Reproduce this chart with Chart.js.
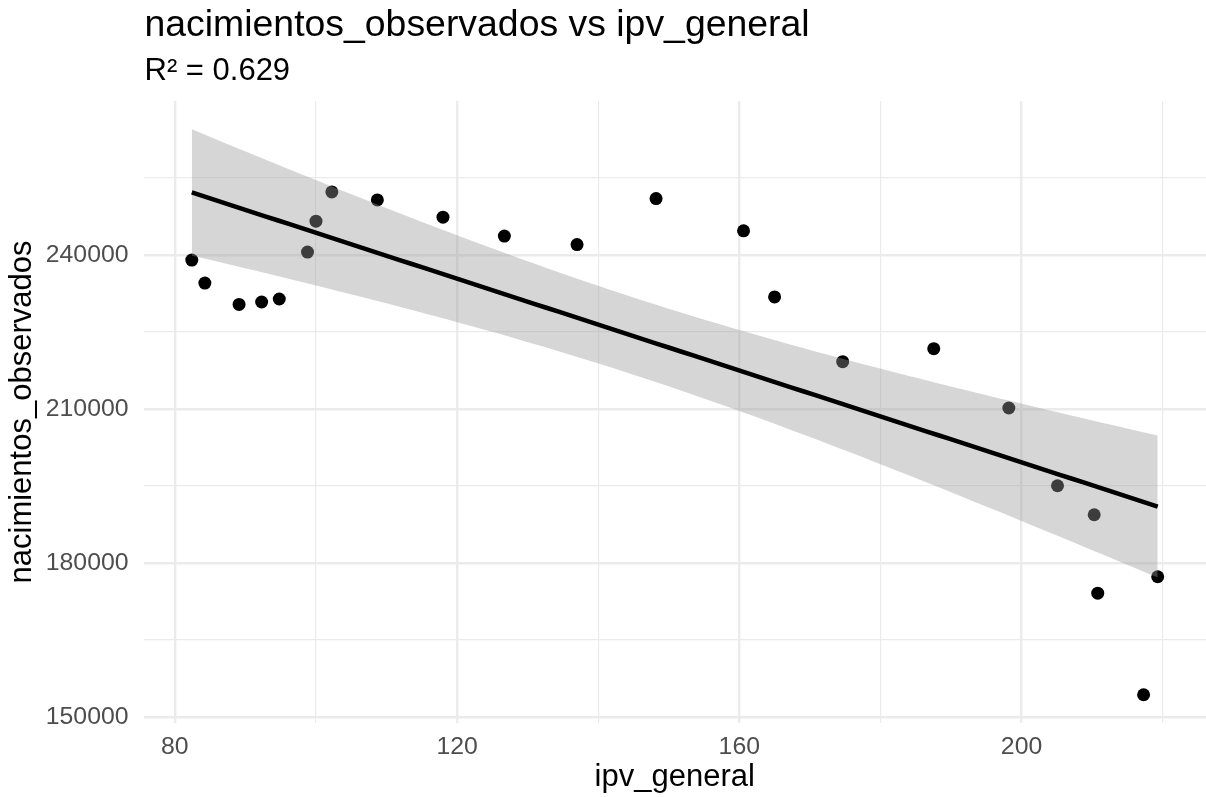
<!DOCTYPE html>
<html>
<head>
<meta charset="utf-8">
<script src="https://cdn.jsdelivr.net/npm/chart.js@4.4.0/dist/chart.umd.min.js"></script>
<style>
  html, body { margin: 0; padding: 0; background: #fff; }
  canvas { display: block; }
</style>
</head>
<body>
<canvas id="chart" width="1206" height="797"></canvas>
<script>
// observed points
const ipvGeneral = [
  82.4, 84.25, 89.1, 92.3, 94.8, 98.8, 100.0, 102.25, 108.7, 118.0, 126.7, 137.0,
  148.2, 160.6, 165.0, 174.65, 187.56, 198.2, 205.1, 210.3, 210.8, 217.3, 219.3,
];
const nacimientos = [
  238970, 234500, 230340, 230800, 231390, 240525, 246550, 252250, 250700, 247330, 243640, 242000,
  250960, 244665, 231800, 219185, 221720, 210150, 195000, 189350, 174070, 154290, 177270,
];

const xTicks = [80, 100, 120, 140, 160, 180, 200, 220];
const xLabelled = [80, 120, 160, 200];
const yTicks = [150000, 165000, 180000, 195000, 210000, 225000, 240000, 255000];
const yLabelled = [150000, 180000, 210000, 240000];

const titleText = 'nacimientos_observados vs ipv_general';
const subtitleText = 'R² = 0.629';
const xTitle = 'ipv_general';
const yTitle = 'nacimientos_observados';

const fontFamily = '"Liberation Sans", Arial, Helvetica, sans-serif';
const palette = {
  text: '#000000',
  tick: '#4D4D4D',
  grid: '#EBEBEB',
  ribbon: 'rgba(153, 153, 153, 0.4)', // grey60, alpha .4
  line: '#000000',
  point: '#000000',
};

// least squares fit + 95% confidence band (like geom_smooth(method = 'lm'))
const n = ipvGeneral.length;
const xBar = ipvGeneral.reduce((a, b) => a + b, 0) / n;
const yBar = nacimientos.reduce((a, b) => a + b, 0) / n;
let sxx = 0, sxy = 0;
for (let i = 0; i < n; i++) {
  sxx += (ipvGeneral[i] - xBar) ** 2;
  sxy += (ipvGeneral[i] - xBar) * (nacimientos[i] - yBar);
}
const slope = sxy / sxx;
const intercept = yBar - slope * xBar;
let sse = 0;
for (let i = 0; i < n; i++) {
  sse += (nacimientos[i] - (intercept + slope * ipvGeneral[i])) ** 2;
}
const sigma = Math.sqrt(sse / (n - 2));
const tCrit = 2.080; // qt(0.975, df = 21)

const xLo = Math.min(...ipvGeneral);
const xHi = Math.max(...ipvGeneral);
const fitLine = [], bandUpper = [], bandLower = [];
for (let k = 0; k < 80; k++) {
  const x = xLo + (xHi - xLo) * k / 79;
  const yhat = intercept + slope * x;
  const se = sigma * Math.sqrt(1 / n + (x - xBar) ** 2 / sxx);
  fitLine.push({ x, y: yhat });
  bandUpper.push({ x, y: yhat + tCrit * se });
  bandLower.push({ x, y: yhat - tCrit * se });
}

// ggplot style 5% expansion of the limits
const xPad = (xHi - xLo) * 0.05;
const yAll = nacimientos.concat(bandUpper.map(p => p.y), bandLower.map(p => p.y));
const yLo = Math.min(...yAll);
const yHi = Math.max(...yAll);
const yPad = (yHi - yLo) * 0.05;

const headerPlugin = {
  id: 'header',
  afterDraw(chart) {
    const { ctx, chartArea } = chart;
    ctx.save();
    ctx.fillStyle = palette.text;
    ctx.textAlign = 'left';
    ctx.textBaseline = 'alphabetic';
    ctx.font = `37.4px ${fontFamily}`;
    ctx.fillText(titleText, chartArea.left + 1, 36);
    ctx.font = `31px ${fontFamily}`;
    ctx.fillText(subtitleText, chartArea.left + 1, 80);
    ctx.restore();
  },
};

const gridWidth = (labelled) => (ctx) =>
  ctx.tick && labelled.includes(ctx.tick.value) ? 2.4 : 1.2;

const ctx = document.getElementById('chart').getContext('2d');
new Chart(ctx, {
  type: 'scatter',
  data: {
    datasets: [
      {
        label: 'fit',
        data: fitLine,
        showLine: true,
        borderColor: palette.line,
        borderWidth: 4.5,
        pointRadius: 0,
        fill: false,
      },
      {
        label: 'upper',
        data: bandUpper,
        showLine: true,
        borderColor: 'transparent',
        backgroundColor: palette.ribbon,
        pointRadius: 0,
        fill: '+1',
      },
      {
        label: 'lower',
        data: bandLower,
        showLine: true,
        borderColor: 'transparent',
        pointRadius: 0,
        fill: false,
      },
      {
        label: 'observed',
        data: ipvGeneral.map((x, i) => ({ x, y: nacimientos[i] })),
        backgroundColor: palette.point,
        borderWidth: 0,
        pointRadius: 6.5,
        pointHoverRadius: 6.5,
      },
    ],
  },
  options: {
    responsive: false,
    devicePixelRatio: 1,
    animation: false,
    events: [],
    layout: { autoPadding: false, padding: { top: 101, right: 0, bottom: 0, left: 0 } },
    plugins: {
      legend: { display: false },
      tooltip: { enabled: false },
    },
    scales: {
      x: {
        type: 'linear',
        min: xLo - xPad,
        max: xHi + xPad,
        afterBuildTicks: (scale) => { scale.ticks = xTicks.map((v) => ({ value: v })); },
        afterFit: (scale) => { scale.height = 74; },
        border: { display: false },
        grid: { color: palette.grid, lineWidth: gridWidth(xLabelled), drawTicks: false },
        ticks: {
          autoSkip: false,
          maxRotation: 0,
          padding: 9,
          color: palette.tick,
          font: { family: fontFamily, size: 24.8 },
          callback: (v) => (xLabelled.includes(v) ? String(v) : ''),
        },
        title: {
          display: true,
          text: xTitle,
          color: palette.text,
          font: { family: fontFamily, size: 31 },
          padding: { top: 0, bottom: 1 },
        },
      },
      y: {
        type: 'linear',
        min: yLo - yPad,
        max: yHi + yPad,
        afterBuildTicks: (scale) => { scale.ticks = yTicks.map((v) => ({ value: v })); },
        afterFit: (scale) => { scale.width = 143.5; },
        border: { display: false },
        grid: { color: palette.grid, lineWidth: gridWidth(yLabelled), drawTicks: false },
        ticks: {
          autoSkip: false,
          padding: 15,
          color: palette.tick,
          font: { family: fontFamily, size: 24.8 },
          callback: (v) => (yLabelled.includes(v) ? String(v) : ''),
        },
        title: {
          display: true,
          text: yTitle,
          color: palette.text,
          font: { family: fontFamily, size: 31 },
          padding: { top: 4, bottom: 0 },
        },
      },
    },
  },
  plugins: [headerPlugin],
});
</script>
</body>
</html>
